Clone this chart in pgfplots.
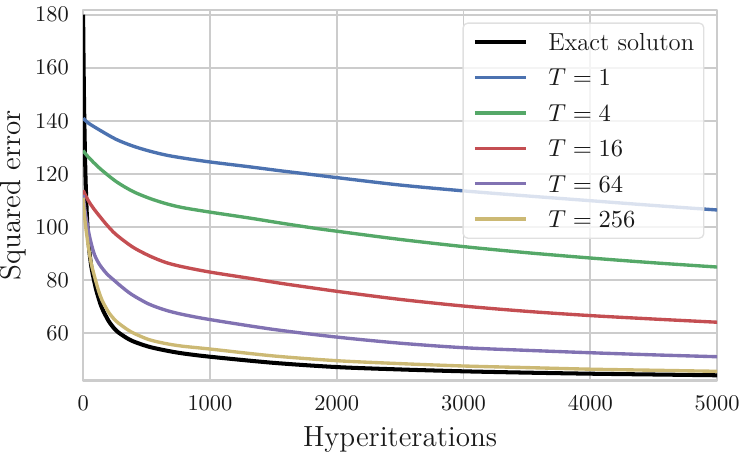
\documentclass[border=0pt]{standalone}
\usepackage{pgfplots}
\pgfplotsset{compat=1.18}
\definecolor{sbblue}{HTML}{4C72B0}
\definecolor{sbgreen}{HTML}{55A868}
\definecolor{sbred}{HTML}{C44E52}
\definecolor{sbpurple}{HTML}{8172B2}
\definecolor{sbyellow}{HTML}{CCB974}
\begin{document}
\begin{tikzpicture}
\begin{axis}[
  scale only axis, width=283.1pt, height=165.4pt,
  xmin=0, xmax=5000, ymin=42.2, ymax=181.8,
  xtick={0,1000,2000,3000,4000,5000},
  ytick={60,80,100,120,140,160,180},
  scaled x ticks=false,
  major tick length=0pt,
  tick style={draw=none},
  grid=major,
  major grid style={draw=black!20, line width=0.8pt},
  axis line style={draw=black!20, line width=1.1pt},
  tick label style={font=\fontsize{10}{12}\selectfont, text=black!90},
  xticklabel style={yshift=-3.7pt, /pgf/number format/1000 sep={}},
  yticklabel style={xshift=-2.9pt},
  xlabel={Hyperiterations}, ylabel={Squared error},
  label style={font=\fontsize{13}{15}\selectfont, text=black!90},
  xlabel style={at={(axis description cs:0.5,-0.1784)}, anchor=base, inner sep=0pt},
  ylabel style={at={(axis description cs:-0.1318,0.5)}, anchor=north, inner sep=0pt},
  legend cell align=left,
  legend image code/.code={\draw[#1] (0pt,0pt) -- (23pt,0pt);},
  legend style={at={(0.980,0.966)}, anchor=north east,
    fill=white, fill opacity=0.8, draw opacity=1, text opacity=1,
    draw=black!12, rounded corners=2pt, line width=0.6pt,
    font=\fontsize{11}{13}\selectfont, text=black!90,
    inner xsep=4.3pt, inner ysep=4.5pt,
    nodes={inner sep=0pt, text height=7.7pt, text depth=0.3pt},
    row sep=7.8pt,
    /tikz/every odd column/.style={column sep=8.9pt}},
  line join=round,
  every axis plot/.append style={smooth, tension=0.5},
]
\addplot[black, line width=1.8pt] coordinates {
(0,180)(3,165)(6,152)(10,139)(15,127)(20,117)(30,104)(45,93)(65,85)(97,77.5)(123,73)(150,69.3)(202,64.5)(254,61.3)(300,59.5)(385,57.1)(516,54.9)(647,53.5)(778,52.4)(1000,51.1)(1500,48.8)(2000,47.2)(2500,46.3)(3000,45.6)(3500,45.1)(4000,44.7)(4500,44.4)(5000,44.1)};
\addlegendentry{Exact soluton}
\addplot[sbblue, line width=1.5pt] coordinates {
(0,141)(40,139.2)(131,136.5)(261,133)(392,130.5)(523,128.6)(653,127.1)(784,126)(1000,124.5)(1307,122.7)(1568,121.1)(1830,119.6)(2000,118.6)(2500,115.8)(3000,113.6)(3500,111.7)(4000,109.9)(4500,108.1)(5000,106.4)};
\addlegendentry{$T=1$}
\addplot[sbgreen, line width=1.5pt] coordinates {
(0,128.8)(40,126.4)(131,122.1)(261,117.1)(392,113.4)(523,110.8)(653,108.8)(784,107.3)(1000,105.6)(1307,103.4)(1568,101.4)(1830,99.5)(2000,98.4)(2500,95.3)(3000,92.6)(3500,90.3)(4000,88.3)(4500,86.5)(5000,84.9)};
\addlegendentry{$T=4$}
\addplot[sbred, line width=1.5pt] coordinates {
(0,113.8)(20,111.8)(45,109.6)(85,106.8)(131,104)(190,100.6)(261,97.1)(392,92.4)(523,89.1)(653,86.6)(784,85.0)(1000,83.0)(1307,80.7)(1568,78.7)(1830,76.9)(2039,75.5)(2500,72.7)(3000,70.2)(3500,68.2)(4000,66.6)(4500,65.3)(5000,64.1)};
\addlegendentry{$T=16$}
\addplot[sbpurple, line width=1.5pt] coordinates {
(0,112)(10,108)(20,104.5)(40,99)(60,94.5)(90,89.5)(130,85.8)(188,82.3)(254,79.5)(300,77.6)(385,74.5)(516,71)(647,68.7)(778,67.1)(1000,65.1)(1500,61.4)(2000,58.5)(2500,56.2)(3000,54.5)(3500,53.5)(4000,52.6)(4500,51.8)(5000,51.1)};
\addlegendentry{$T=64$}
\addplot[sbyellow, line width=1.5pt] coordinates {
(0,111)(8,106)(18,101)(30,96.5)(45,91.5)(65,86)(97,80.1)(123,75.8)(150,72.3)(202,67.8)(254,64.8)(300,63)(385,60.3)(516,57.6)(647,56.1)(778,55.1)(1000,54)(1500,51.4)(2000,49.6)(2500,48.5)(3000,47.6)(3500,47)(4000,46.4)(4500,46)(5000,45.6)};
\addlegendentry{$T=256$}
\end{axis}
\end{tikzpicture}
\end{document}
